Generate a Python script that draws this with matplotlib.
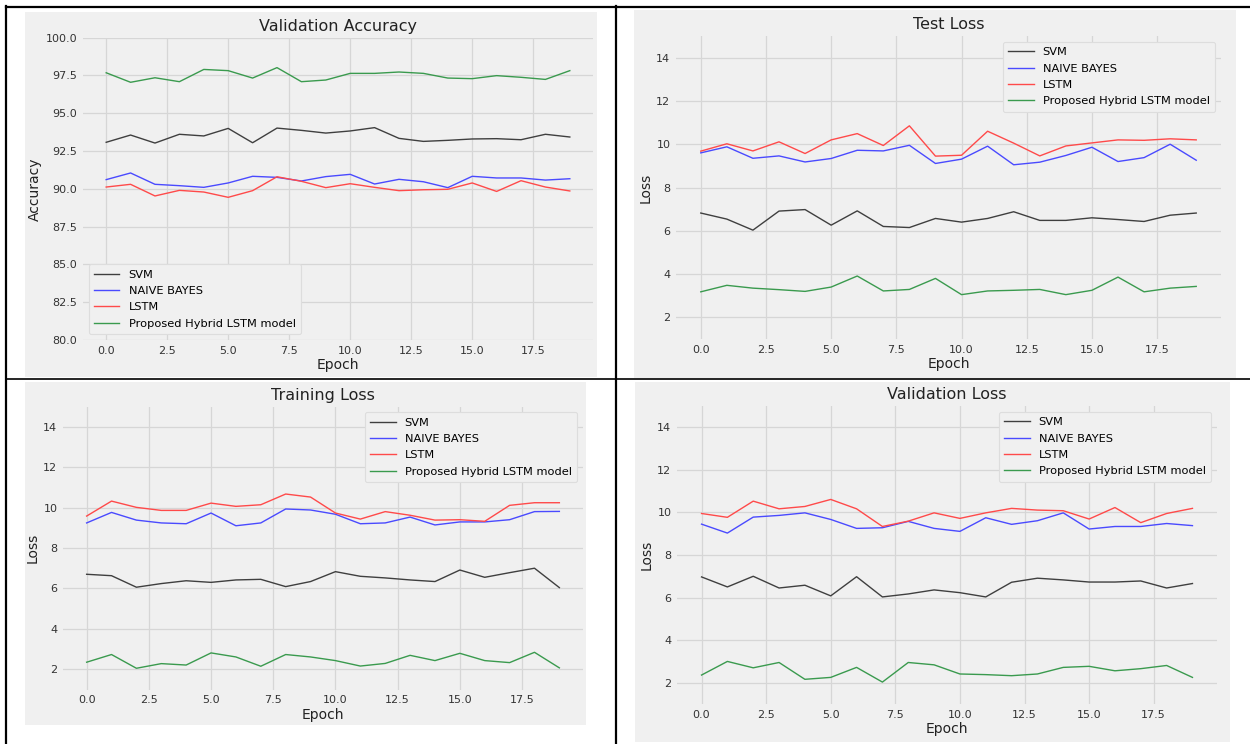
import matplotlib
matplotlib.use("Agg")
import matplotlib.pyplot as plt
from matplotlib.patches import Rectangle
from matplotlib.lines import Line2D
import numpy as np

W, H = 1250, 744
epochs = list(range(20))
series_names = ["SVM", "NAIVE BAYES", "LSTM", "Proposed Hybrid LSTM model"]
series_colors = ["#3f3f3f", "#4a4aff", "#ff4a4a", "#3a9a4e"]

# Validation Accuracy
va_svm = [93.08, 93.56, 93.03, 93.61, 93.50, 94.00, 93.05, 94.02, 93.87, 93.69,
          93.83, 94.05, 93.34, 93.14, 93.21, 93.30, 93.32, 93.25, 93.61, 93.43]
va_nb = [90.61, 91.05, 90.30, 90.21, 90.10, 90.39, 90.83, 90.76, 90.52, 90.81,
         90.96, 90.32, 90.63, 90.47, 90.08, 90.83, 90.72, 90.72, 90.58, 90.67]
va_lstm = [90.12, 90.30, 89.53, 89.90, 89.79, 89.44, 89.88, 90.80, 90.50, 90.08,
           90.34, 90.10, 89.88, 89.94, 89.97, 90.39, 89.83, 90.54, 90.12, 89.86]
va_hyb = [97.68, 97.05, 97.35, 97.09, 97.90, 97.82, 97.33, 98.02, 97.09, 97.20,
          97.64, 97.64, 97.73, 97.64, 97.33, 97.29, 97.49, 97.38, 97.24, 97.82]

# Test Loss
te_svm = [6.82, 6.54, 6.03, 6.91, 6.98, 6.26, 6.92, 6.20, 6.15, 6.57,
          6.40, 6.57, 6.88, 6.48, 6.48, 6.60, 6.52, 6.43, 6.72, 6.82]
te_nb = [9.60, 9.88, 9.35, 9.46, 9.18, 9.34, 9.72, 9.69, 9.95, 9.11,
         9.31, 9.91, 9.05, 9.17, 9.48, 9.86, 9.20, 9.38, 10.00, 9.26]
te_lstm = [9.68, 10.02, 9.69, 10.11, 9.57, 10.20, 10.49, 9.94, 10.85, 9.45,
           9.49, 10.60, 10.05, 9.46, 9.92, 10.06, 10.20, 10.18, 10.25, 10.20]
te_hyb = [3.18, 3.48, 3.35, 3.28, 3.20, 3.40, 3.91, 3.22, 3.29, 3.80,
          3.05, 3.22, 3.25, 3.29, 3.05, 3.25, 3.86, 3.18, 3.35, 3.43]

# Training Loss
tr_svm = [6.70, 6.63, 6.06, 6.24, 6.38, 6.30, 6.42, 6.45, 6.09, 6.34,
          6.83, 6.60, 6.52, 6.42, 6.34, 6.91, 6.55, 6.78, 7.00, 6.04]
tr_nb = [9.24, 9.76, 9.38, 9.24, 9.20, 9.73, 9.10, 9.24, 9.93, 9.88,
         9.67, 9.20, 9.24, 9.53, 9.14, 9.29, 9.29, 9.40, 9.80, 9.81]
tr_lstm = [9.58, 10.32, 10.01, 9.86, 9.86, 10.22, 10.06, 10.14, 10.67, 10.52,
           9.73, 9.43, 9.80, 9.62, 9.38, 9.40, 9.32, 10.11, 10.24, 10.24]
tr_hyb = [2.35, 2.73, 2.05, 2.28, 2.21, 2.81, 2.61, 2.15, 2.73, 2.61,
          2.43, 2.16, 2.29, 2.69, 2.43, 2.79, 2.43, 2.33, 2.84, 2.07]

# Validation Loss
vl_svm = [6.97, 6.50, 7.00, 6.45, 6.58, 6.08, 6.98, 6.03, 6.17, 6.36,
          6.23, 6.03, 6.72, 6.91, 6.83, 6.73, 6.73, 6.78, 6.45, 6.66]
vl_nb = [9.45, 9.03, 9.78, 9.86, 9.98, 9.67, 9.25, 9.28, 9.58, 9.25,
         9.11, 9.75, 9.44, 9.61, 9.98, 9.22, 9.34, 9.34, 9.48, 9.38]
vl_lstm = [9.95, 9.77, 10.53, 10.17, 10.28, 10.61, 10.17, 9.34, 9.59, 9.98,
           9.72, 9.98, 10.19, 10.11, 10.08, 9.69, 10.23, 9.52, 9.95, 10.19]
vl_hyb = [2.36, 3.00, 2.70, 2.95, 2.16, 2.25, 2.72, 2.03, 2.95, 2.84,
          2.41, 2.38, 2.33, 2.41, 2.72, 2.77, 2.56, 2.66, 2.81, 2.25]

xticks = [0.0, 2.5, 5.0, 7.5, 10.0, 12.5, 15.0, 17.5]
acc_ticks = [80.0, 82.5, 85.0, 87.5, 90.0, 92.5, 95.0, 97.5, 100.0]
loss_ticks = [2, 4, 6, 8, 10, 12, 14]

plt.rcParams['font.family'] = ['DejaVu Sans']

fig = plt.figure(figsize=(W / 100, H / 100), dpi=100, facecolor="white")


def frac(l, t, r, b):
    return [l / W, 1 - b / H, (r - l) / W, (b - t) / H]


# gray backgrounds of the four embedded images
for (l, t, r, b) in [(25, 12, 597, 377), (634, 10, 1236, 378),
                     (25, 382, 586, 725), (635, 382, 1230, 742)]:
    x, y, w, h = frac(l, t, r, b)
    fig.patches.append(Rectangle((x, y), w, h, transform=fig.transFigure,
                                 facecolor="#f0f0f0", edgecolor="none", zorder=-5))

# table borders
def fline(x0, y0, x1, y1, lw):
    fig.lines.append(Line2D([x0 / W, x1 / W], [1 - y0 / H, 1 - y1 / H],
                            transform=fig.transFigure, color="black", lw=lw, zorder=5))

fline(6, 7, 1250, 7, 1.6)
fline(6, 379, 1250, 379, 1.2)
fline(6, 6, 6, 744, 1.6)
fline(616, 6, 616, 744, 1.6)

panels = [
    ("Validation Accuracy", "Accuracy", (83, 37.7, 593, 340),
     [va_svm, va_nb, va_lstm, va_hyb], (80, 100), acc_ticks, "lower left"),
    ("Test Loss", "Loss", (676, 36, 1221, 339),
     [te_svm, te_nb, te_lstm, te_hyb], (1, 15), loss_ticks, "upper right"),
    ("Training Loss", "Loss", (63, 406.5, 583, 689.5),
     [tr_svm, tr_nb, tr_lstm, tr_hyb], (1, 15), loss_ticks, "upper right"),
    ("Validation Loss", "Loss", (677, 406, 1217, 704),
     [vl_svm, vl_nb, vl_lstm, vl_hyb], (1, 15), loss_ticks, "upper right"),
]

for title, ylabel, rect, data, ylim, yticks, loc in panels:
    ax = fig.add_axes(frac(*rect))
    ax.set_zorder(1)
    ax.set_facecolor("#f0f0f0")
    for vals, name, col in zip(data, series_names, series_colors):
        ax.plot(epochs, vals, color=col, lw=1.0, label=name)
    ax.set_xlim(-0.95, 19.95)
    ax.set_ylim(*ylim)
    ax.set_xticks(xticks)
    ax.set_yticks(yticks)
    if ylim[0] == 80:
        ax.set_yticklabels([f"{v:.1f}" for v in yticks])
    ax.set_xticklabels([f"{v:.1f}" for v in xticks])
    ax.grid(True, color="#d6d6d6", lw=0.9)
    ax.set_axisbelow(True)
    for s in ax.spines.values():
        s.set_visible(False)
    ax.tick_params(length=0, labelsize=8, colors="#333333", pad=4)
    ax.set_title(title, fontsize=11.5, color="#222222", pad=5)
    ax.set_xlabel("Epoch", fontsize=10, color="#222222", labelpad=2)
    ax.set_ylabel(ylabel, fontsize=10, color="#222222", labelpad=3)
    leg = ax.legend(loc=loc, fontsize=8.2, frameon=True, fancybox=True,
                    facecolor="#f0f0f0", edgecolor="#dddddd", framealpha=1.0,
                    labelspacing=0.55, handlelength=2.2, borderpad=0.5)
    leg.get_frame().set_linewidth(0.8)

fig.savefig("out.png", dpi=100, facecolor="white")
